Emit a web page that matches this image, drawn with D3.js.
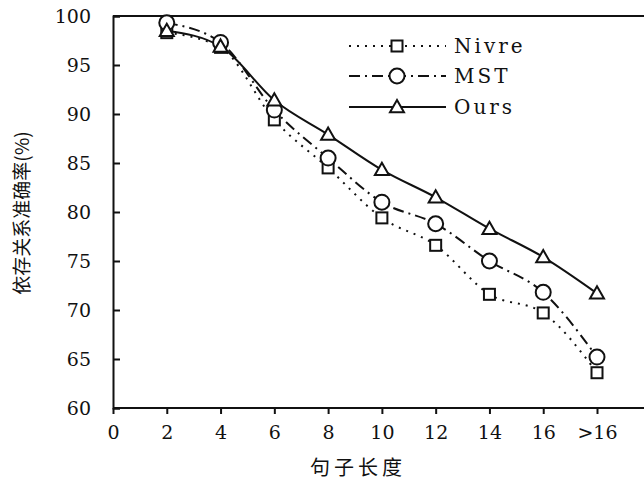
<!DOCTYPE html>
<html>
<head>
<meta charset="utf-8">
<script src="https://cdn.jsdelivr.net/npm/d3@7/dist/d3.min.js"></script>
<style>
  html, body { margin: 0; padding: 0; background: #fff; }
  svg { display: block; }
</style>
</head>
<body>
<svg id="chart" width="644" height="481"></svg>
<script>
// ---- data ----
const xValues = [2, 4, 6, 8, 10, 12, 14, 16, 18];
const xTickValues = [0, 2, 4, 6, 8, 10, 12, 14, 16, 18];
const xTickLabels = ["0", "2", "4", "6", "8", "10", "12", "14", "16", ">16"];
const yTickValues = [60, 65, 70, 75, 80, 85, 90, 95, 100];
const nivre = [98.3, 96.8, 89.4, 84.5, 79.4, 76.6, 71.6, 69.7, 63.6];
const mst   = [99.3, 97.3, 90.4, 85.5, 81.0, 78.8, 75.0, 71.8, 65.2];
const ours  = [98.5, 96.9, 91.4, 87.9, 84.3, 81.5, 78.3, 75.4, 71.7];
const seriesNames = ["Nivre", "MST", "Ours"];
const xLabel = "句子长度";
const yLabel = "依存关系准确率(%)";

// ---- layout ----
const svg = d3.select("#chart");
const x = d3.scaleLinear().domain([0, 18]).range([113, 597]);
const y = d3.scaleLinear().domain([60, 100]).range([408, 16]);
const serifFont = "'DejaVu Serif', 'Liberation Serif', serif";
const cjkFont = "'Noto Sans CJK SC', sans-serif";

// frame: top line to right edge
svg.append("line").attr("x1", 113).attr("x2", 644).attr("y1", y(100)).attr("y2", y(100))
  .attr("stroke", "#111").attr("stroke-width", 2);

// y axis (ticks inward)
const yAxis = d3.axisLeft(y).tickValues(yTickValues).tickSize(-7).tickPadding(22).tickFormat(d3.format("d"));
const gy = svg.append("g").attr("transform", `translate(${x(0)},0)`).call(yAxis);
gy.select(".domain").attr("stroke", "#111").attr("stroke-width", 2);
gy.selectAll(".tick line").attr("stroke", "#111").attr("stroke-width", 2);
gy.selectAll(".tick text").attr("font-family", serifFont).attr("font-size", 19).attr("fill", "#111");

// x axis (ticks outward)
const xAxis = d3.axisBottom(x).tickValues(xTickValues).tickSize(6).tickPadding(12)
  .tickFormat((d, i) => xTickLabels[i]);
const gx = svg.append("g").attr("transform", `translate(0,${y(60)})`).call(xAxis);
gx.select(".domain").attr("stroke", "#111").attr("stroke-width", 2).attr("d", `M${x(0)},0H644`);
gx.selectAll(".tick line").attr("stroke", "#111").attr("stroke-width", 2);
gx.selectAll(".tick text").attr("font-family", serifFont).attr("font-size", 19).attr("fill", "#111");

// axis titles
svg.append("text").attr("x", 358).attr("y", 475).attr("text-anchor", "middle")
  .attr("font-family", cjkFont).attr("font-size", 20).attr("letter-spacing", 4).attr("fill", "#111").text(xLabel);
svg.append("text").attr("transform", "translate(29,213) rotate(-90)").attr("text-anchor", "middle")
  .attr("font-family", cjkFont).attr("font-size", 19).attr("fill", "#111").text(yLabel);

// ---- series ----
const series = [
  { name: seriesNames[0], values: nivre, dash: "2,6", marker: "square" },
  { name: seriesNames[1], values: mst, dash: "11,5,2,5", marker: "circle" },
  { name: seriesNames[2], values: ours, dash: null, marker: "triangle" }
];
const line = d3.line().x(d => x(d[0])).y(d => y(d[1])).curve(d3.curveMonotoneX);

function drawMarker(g, type, cx, cy) {
  if (type === "square") {
    g.append("rect").attr("x", cx - 5.5).attr("y", cy - 5.5).attr("width", 11).attr("height", 11)
      .attr("fill", "#fff").attr("stroke", "#111").attr("stroke-width", 2);
  } else if (type === "circle") {
    g.append("circle").attr("cx", cx).attr("cy", cy).attr("r", 7.5)
      .attr("fill", "#fff").attr("stroke", "#111").attr("stroke-width", 2);
  } else {
    const s = 7;
    g.append("path").attr("d", `M${cx},${cy - s}L${cx + s},${cy + s * 0.75}L${cx - s},${cy + s * 0.75}Z`)
      .attr("fill", "#fff").attr("stroke", "#111").attr("stroke-width", 2);
  }
}

series.forEach(s => {
  const pts = xValues.map((xv, i) => [xv, s.values[i]]);
  svg.append("path").attr("d", line(pts)).attr("fill", "none").attr("stroke", "#111")
    .attr("stroke-width", 2).attr("stroke-dasharray", s.dash);
});
series.forEach(s => {
  const g = svg.append("g");
  xValues.forEach((xv, i) => drawMarker(g, s.marker, x(xv), y(s.values[i])));
});

// ---- legend ----
const legY = [46, 76, 107];
series.forEach((s, i) => {
  const g = svg.append("g");
  g.append("line").attr("x1", 349).attr("x2", 446).attr("y1", legY[i]).attr("y2", legY[i])
    .attr("stroke", "#111").attr("stroke-width", 2).attr("stroke-dasharray", s.dash);
  drawMarker(g, s.marker, 397, legY[i]);
  g.append("text").attr("x", 454).attr("y", legY[i] + 7).attr("font-family", serifFont)
    .attr("font-size", 20).attr("letter-spacing", 3).attr("fill", "#111").text(s.name);
});
</script>
</body>
</html>
